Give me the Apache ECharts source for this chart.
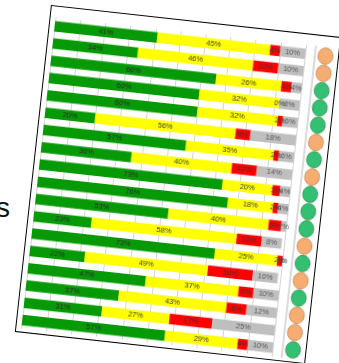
<!DOCTYPE html>
<html>
<head>
<meta charset="utf-8">
<script src="https://cdn.jsdelivr.net/npm/echarts@6/dist/echarts.min.js"></script>
<style>
  html, body { margin: 0; padding: 0; width: 339px; height: 363px; overflow: hidden; background: #fff; }
  #frame {
    position: absolute; left: 32px; top: 20px; width: 292px; height: 329px;
    box-sizing: border-box; border: 1.5px solid #000; background: #fff;
    transform: rotate(6.3deg); transform-origin: 50% 50%;
  }
  #chart { position: absolute; left: 0; top: 0; width: 289px; height: 326px; }
  #side {
    position: absolute; left: -4px; top: 194px; font-family: "Liberation Sans", Arial, sans-serif;
    font-size: 28px; line-height: 28px; color: #111;
  }
</style>
</head>
<body>
<div id="side">s</div>
<div id="frame"><div id="chart"></div></div>
<script>
// Data
const rows   = ['R1','R2','R3','R4','R5','R6','R7','R8','R9','R10','R11','R12','R13','R14','R15','R16','R17','R18'];
const green  = [41, 34, 66, 60, 60, 20, 57, 36, 73, 76, 53, 23, 73, 22, 47, 37, 31, 57];
const yellow = [45, 46, 26, 32, 32, 56, 35, 40, 20, 18, 40, 58, 25, 49, 37, 43, 27, 29];
const red    = [4, 10, 4, 0, 2, 6, 2, 10, 3, 2, 5, 10, 2, 18, 6, 8, 17, 4];
const grey   = [10, 10, 4, 8, 6, 18, 6, 14, 4, 4, 2, 8, 0, 10, 10, 12, 25, 10];
const status = ['warn','warn','ok','ok','ok','warn','ok','warn','ok','ok','ok','warn','ok','warn','ok','warn','warn','ok'];

const chart = echarts.init(document.getElementById('chart'), null, { renderer: 'canvas' });

function seg(name, data, color, labelColor) {
  return {
    name: name, type: 'bar', stack: 'total', xAxisIndex: 0, yAxisIndex: 0,
    data: data, barWidth: 10.5, itemStyle: { color: color },
    label: {
      show: true, position: 'inside', formatter: '{c}%',
      fontSize: 7.5, fontFamily: 'Liberation Sans, Arial, sans-serif',
      color: labelColor
    },
    emphasis: { disabled: true }
  };
}

const option = {
  animation: false,
  grid: [
    { left: 5, top: 11, width: 252, height: 313, containLabel: false },
    { left: 267, top: 11, width: 21, height: 313, containLabel: false }
  ],
  xAxis: [
    {
      gridIndex: 0, type: 'value', min: 0, max: 100, interval: 10,
      axisLabel: { show: false }, axisTick: { show: false }, axisLine: { show: false },
      splitLine: { show: true, lineStyle: { color: '#d4d4d4', width: 1 } }
    },
    {
      gridIndex: 1, type: 'value', min: 0, max: 1,
      axisLabel: { show: false }, axisTick: { show: false }, axisLine: { show: false },
      splitLine: { show: false }
    }
  ],
  yAxis: [
    {
      gridIndex: 0, type: 'category', data: rows, inverse: true,
      axisLabel: { show: false }, axisTick: { show: false },
      axisLine: { show: true, lineStyle: { color: '#d4d4d4' } }
    },
    {
      gridIndex: 1, type: 'category', data: rows, inverse: true,
      axisLabel: { show: false }, axisTick: { show: false },
      axisLine: { show: true, lineStyle: { color: '#cfcfcf', width: 1.5 } }
    }
  ],
  series: [
    seg('green', green, '#079a07', '#2a2a2a'),
    seg('yellow', yellow, '#ffff00', '#3a3a3a'),
    seg('red', red, '#ff0000', '#3a3a3a'),
    seg('grey', grey, '#bfbfbf', '#555555'),
    {
      type: 'scatter', xAxisIndex: 1, yAxisIndex: 1,
      symbol: 'circle', symbolSize: [15, 16.5],
      data: status.map(function (s, i) {
        return {
          value: [0.5, rows[i]],
          itemStyle: s === 'ok'
            ? { color: '#00b050', borderColor: '#2e7d3e', borderWidth: 0.8 }
            : { color: '#f4994e', borderColor: '#b5733a', borderWidth: 0.8 }
        };
      }),
      emphasis: { disabled: true }
    }
  ]
};
chart.setOption(option);
</script>
</body>
</html>
